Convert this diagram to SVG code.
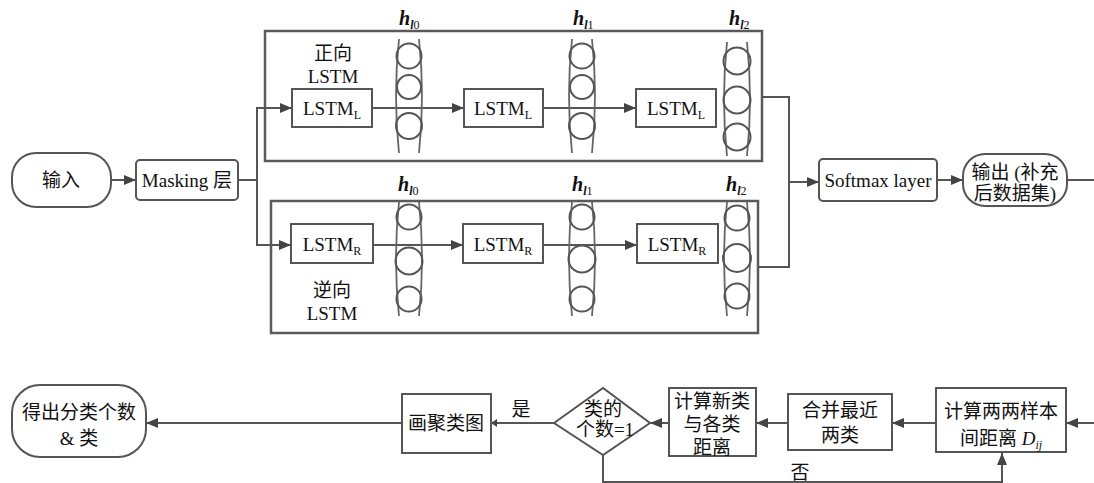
<svg xmlns="http://www.w3.org/2000/svg" width="1094" height="483" viewBox="0 0 1094 483">
<style>
text{font-family:"Liberation Serif","Noto Sans CJK SC",serif;font-size:19px;fill:#111;text-anchor:middle}
.box{fill:#fff;stroke:#555;stroke-width:2}
.cont{fill:none;stroke:#5a5a5a;stroke-width:2.5}
.ln{fill:none;stroke:#555;stroke-width:2}
.circ{fill:none;stroke:#555;stroke-width:2}
.br{fill:none;stroke:#666;stroke-width:1.8}
.h{font-style:italic;font-weight:bold;text-anchor:start;font-size:20px}
.sub{font-size:12px}
</style>
<defs>
<marker id="ar" viewBox="0 0 12 10" refX="12" refY="5" markerWidth="12" markerHeight="10" markerUnits="userSpaceOnUse" orient="auto">
<path d="M0,0 L12,5 L0,10 z" fill="#444"/>
</marker>
<marker id="ars" viewBox="0 0 6 8" refX="6" refY="4" markerWidth="6" markerHeight="8" markerUnits="userSpaceOnUse" orient="auto">
<path d="M0,0 L6,4 L0,8 z" fill="#444"/>
</marker>
<g id="col">
<path class="br" d="M4,0 Q-2,57 4,114"/>
<path class="br" d="M24,0 Q30,57 24,114"/>
</g>
</defs>

<!-- containers -->
<g id="forward-container">
<rect class="cont" x="265" y="31" width="497" height="130"/>
<text x="333" y="60">正向</text>
<text x="333" y="83">LSTM</text>
</g>
<g id="backward-container">
<rect class="cont" x="271" y="201" width="487" height="132"/>
<text x="332" y="297">逆向</text>
<text x="332" y="320">LSTM</text>
</g>

<!-- connectors -->
<g id="connectors">
<line class="ln" x1="111" y1="180" x2="136" y2="180" marker-end="url(#ar)"/>
<polyline class="ln" points="238,180 257,180"/>
<line class="ln" x1="257" y1="108" x2="257" y2="245"/>
<line class="ln" x1="256" y1="108" x2="292" y2="108" marker-end="url(#ar)"/>
<line class="ln" x1="256" y1="245" x2="291" y2="245" marker-end="url(#ar)"/>
<line class="ln" x1="372" y1="108" x2="464" y2="108" marker-end="url(#ar)"/>
<line class="ln" x1="543" y1="108" x2="636" y2="108" marker-end="url(#ar)"/>
<line class="ln" x1="373" y1="245" x2="463" y2="245" marker-end="url(#ar)"/>
<line class="ln" x1="543" y1="245" x2="637" y2="245" marker-end="url(#ar)"/>
<polyline class="ln" points="762,97 789,97 789,267 758,267"/>
<line class="ln" x1="788" y1="182" x2="819" y2="182" marker-end="url(#ar)"/>
<line class="ln" x1="937" y1="180" x2="963" y2="180" marker-end="url(#ar)"/>
<line class="ln" x1="1067" y1="180" x2="1094" y2="180"/>
<line class="ln" x1="1094" y1="423" x2="1066" y2="423" marker-end="url(#ar)"/>
<line class="ln" x1="936" y1="423" x2="892" y2="423" marker-end="url(#ar)"/>
<line class="ln" x1="788" y1="423" x2="756" y2="423" marker-end="url(#ar)"/>
<line class="ln" x1="669" y1="423" x2="650" y2="423" marker-end="url(#ar)"/>
<line class="ln" x1="554" y1="423" x2="491" y2="423" marker-end="url(#ars)"/>
<line class="ln" x1="402" y1="423" x2="146" y2="423" marker-end="url(#ar)"/>
<polyline class="ln" points="603,455 603,482 1002,482 1002,453" marker-end="url(#ar)"/>
<text x="521" y="416">是</text>
<text x="800" y="479">否</text>
</g>

<!-- top row nodes -->
<g id="input">
<rect class="box" x="12" y="153" width="99" height="54" rx="24"/>
<text x="61" y="187">输入</text>
</g>
<g id="masking">
<rect class="box" x="136" y="160" width="102" height="40" rx="4"/>
<text x="187" y="187">Masking 层</text>
</g>

<g id="lstm-l1"><rect class="box" x="292" y="89" width="80" height="38"/><text x="332" y="115">LSTM<tspan class="sub" dy="4">L</tspan></text></g>
<g id="lstm-l2"><rect class="box" x="464" y="89" width="79" height="38"/><text x="503" y="115">LSTM<tspan class="sub" dy="4">L</tspan></text></g>
<g id="lstm-l3"><rect class="box" x="636" y="89" width="80" height="38"/><text x="676" y="115">LSTM<tspan class="sub" dy="4">L</tspan></text></g>
<g id="lstm-r1"><rect class="box" x="291" y="224" width="82" height="39"/><text x="332" y="251">LSTM<tspan class="sub" dy="4">R</tspan></text></g>
<g id="lstm-r2"><rect class="box" x="463" y="224" width="80" height="39"/><text x="503" y="251">LSTM<tspan class="sub" dy="4">R</tspan></text></g>
<g id="lstm-r3"><rect class="box" x="637" y="224" width="81" height="39"/><text x="677" y="251">LSTM<tspan class="sub" dy="4">R</tspan></text></g>

<!-- hidden state columns, top -->
<g id="h-top-0">
<use href="#col" x="395" y="39"/>
<circle class="circ" cx="409" cy="56" r="12.5"/><circle class="circ" cx="409" cy="87" r="12"/><circle class="circ" cx="409" cy="126" r="13"/>
<text class="h" x="399" y="25">h<tspan class="sub" dy="4">l</tspan><tspan class="sub" style="font-style:normal;font-weight:normal">0</tspan></text>
</g>
<g id="h-top-1">
<use href="#col" x="568" y="39"/>
<circle class="circ" cx="582" cy="56" r="12.5"/><circle class="circ" cx="582" cy="87" r="12"/><circle class="circ" cx="582" cy="126" r="13"/>
<text class="h" x="573" y="25">h<tspan class="sub" dy="4">l</tspan><tspan class="sub" style="font-style:normal;font-weight:normal">1</tspan></text>
</g>
<g id="h-top-2">
<use href="#col" x="723" y="42"/>
<circle class="circ" cx="737" cy="61" r="13.5"/><circle class="circ" cx="737" cy="100" r="13.5"/><circle class="circ" cx="737" cy="137" r="13.5"/>
<text class="h" x="729" y="25">h<tspan class="sub" dy="4">l</tspan><tspan class="sub" style="font-style:normal;font-weight:normal">2</tspan></text>
</g>

<!-- hidden state columns, bottom -->
<g id="h-bot-0">
<use href="#col" x="395" y="202"/>
<circle class="circ" cx="409" cy="217" r="12.5"/><circle class="circ" cx="409" cy="261" r="13.5"/><circle class="circ" cx="409" cy="299" r="12.5"/>
<text class="h" x="398" y="191">h<tspan class="sub" dy="4">l</tspan><tspan class="sub" style="font-style:normal;font-weight:normal">0</tspan></text>
</g>
<g id="h-bot-1">
<use href="#col" x="568" y="202"/>
<circle class="circ" cx="582" cy="217" r="12.5"/><circle class="circ" cx="582" cy="259" r="13.5"/><circle class="circ" cx="582" cy="299" r="12.5"/>
<text class="h" x="572" y="191">h<tspan class="sub" dy="4">l</tspan><tspan class="sub" style="font-style:normal;font-weight:normal">1</tspan></text>
</g>
<g id="h-bot-2">
<use href="#col" x="723" y="202"/>
<circle class="circ" cx="737" cy="218" r="12.5"/><circle class="circ" cx="737" cy="258" r="14"/><circle class="circ" cx="737" cy="296" r="12.5"/>
<text class="h" x="726" y="191">h<tspan class="sub" dy="4">l</tspan><tspan class="sub" style="font-style:normal;font-weight:normal">2</tspan></text>
</g>

<g id="softmax">
<rect class="box" x="819" y="159" width="118" height="42" rx="4"/>
<text x="878" y="187">Softmax layer</text>
</g>
<g id="output">
<rect class="box" x="963" y="154" width="104" height="52" rx="22"/>
<text x="1015" y="179">输出 (补充</text>
<text x="1015" y="200">后数据集)</text>
</g>

<!-- bottom row -->
<g id="result">
<rect class="box" x="12" y="385" width="134" height="72" rx="28"/>
<text x="79" y="419">得出分类个数</text>
<text x="79" y="445">&amp; 类</text>
</g>
<g id="draw-cluster">
<rect class="box" x="402" y="394" width="89" height="59"/>
<text x="446" y="430">画聚类图</text>
</g>
<g id="decision">
<polygon class="box" points="554,423 603,388 650,423 603,455"/>
<text x="603" y="416">类的</text>
<text x="605" y="436">个数=1</text>
</g>
<g id="calc-new">
<rect class="box" x="669" y="388" width="87" height="68"/>
<text x="712" y="408">计算新类</text>
<text x="712" y="431">与各类</text>
<text x="712" y="454">距离</text>
</g>
<g id="merge">
<rect class="box" x="788" y="394" width="104" height="56"/>
<text x="840" y="417">合并最近</text>
<text x="840" y="442">两类</text>
</g>
<g id="calc-dist">
<rect class="box" x="936" y="388" width="130" height="64"/>
<text x="1001" y="418">计算两两样本</text>
<text x="1001" y="445">间距离 <tspan font-style="italic">D</tspan><tspan class="sub" font-style="italic" dy="4">ij</tspan></text>
</g>
</svg>
